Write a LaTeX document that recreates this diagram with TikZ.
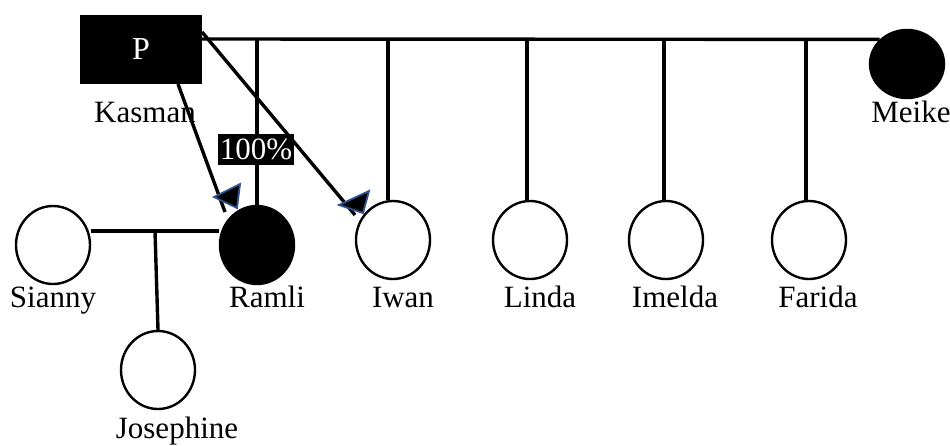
\documentclass[tikz,border=0pt]{standalone}
\usepackage{fontspec}
\setmainfont{Liberation Serif}
\usetikzlibrary{shapes.geometric}
\definecolor{tipblue}{HTML}{2F528F}
\tikzset{
  person/.style={ellipse, draw=black, line width=2.4pt, minimum width=74pt, minimum height=78pt, inner sep=0pt},
  affected/.style={person, fill=black},
  plabel/.style={anchor=base, inner sep=0pt, font=\fontsize{31}{36}\selectfont},
  rel/.style={line width=3.4pt},
  tipmark/.style={fill=black, draw=tipblue, line width=1.8pt, line join=miter},
  tag/.style={fill=black, text=white, inner xsep=2pt, inner ysep=5pt, font=\fontsize{31}{36}\selectfont}
}
\begin{document}
\begin{tikzpicture}[x=1pt,y=-1pt]
\useasboundingbox (0,0) rectangle (950,445);

% proband and spouse
\node[fill=black, minimum width=122pt, minimum height=69pt, inner sep=0pt,
      text=white, font=\fontsize{32}{36}\selectfont] (kasman) at (141,49.5) {P};
\node[affected, minimum width=74pt, minimum height=68pt] (meike) at (907,64) {};

% children row
\node[person]   (sianny) at (53,245) {};
\node[affected] (ramli)  at (257,245) {};
\node[person]   (iwan)   at (393,240) {};
\node[person]   (linda)  at (530,240) {};
\node[person]   (imelda) at (666,240) {};
\node[person]   (farida) at (809,240) {};
\node[person]   (josephine) at (158,370) {};

% couple line and sibship drops
\coordinate (mline) at (202,39);
\draw[rel] (mline) -- (meike.138);
\draw[rel] (ramli.north |- mline) -- (ramli.north);
\draw[rel] ([xshift=-5pt]iwan.north |- mline) -- ([xshift=-5pt]iwan.north);
\draw[rel] ([xshift=-3pt]linda.north |- mline) -- ([xshift=-3pt]linda.north);
\draw[rel] ([xshift=-2pt]imelda.north |- mline) -- ([xshift=-2pt]imelda.north);
\draw[rel] ([xshift=-3pt]farida.north |- mline) -- ([xshift=-3pt]farida.north);

% Ramli and Sianny with their daughter
\coordinate (sline) at (155,231);
\draw[rel] (sianny.east |- sline) -- (ramli.west |- sline);
\draw[rel] (sline) -- (josephine.north);

% diagonal pointers from the proband
\coordinate (pa) at (178,84);
\coordinate (pb) at (225,212);
\coordinate (qa) at (202,32);
\coordinate (qb) at (355,215);
\draw[rel] (pa) -- (pb);
\draw[rel] (qa) -- (qb);
\draw[tipmark] (214,197) -- (240,184) -- (237,208) -- cycle;
\draw[tipmark] (339,205) -- (369,191) -- (363,213) -- cycle;

% percentage tag
\node[tag] (pct) at (256,149.5) {100\%};

% names
\node[plabel] (lkasman) at (145,122) {Kasman};
\node[plabel] (lmeike)  at (911,122) {Meike};
\node[plabel] (lsianny) at (53,307) {Sianny};
\node[plabel] (lramli)  at (267,307) {Ramli};
\node[plabel] (liwan)   at (403,307) {Iwan};
\node[plabel] (llinda)  at (540,307) {Linda};
\node[plabel] (limelda) at (675,307) {Imelda};
\node[plabel] (lfarida) at (818,307) {Farida};
\node[plabel] (ljosephine) at (177,438) {Josephine};
\end{tikzpicture}
\end{document}
